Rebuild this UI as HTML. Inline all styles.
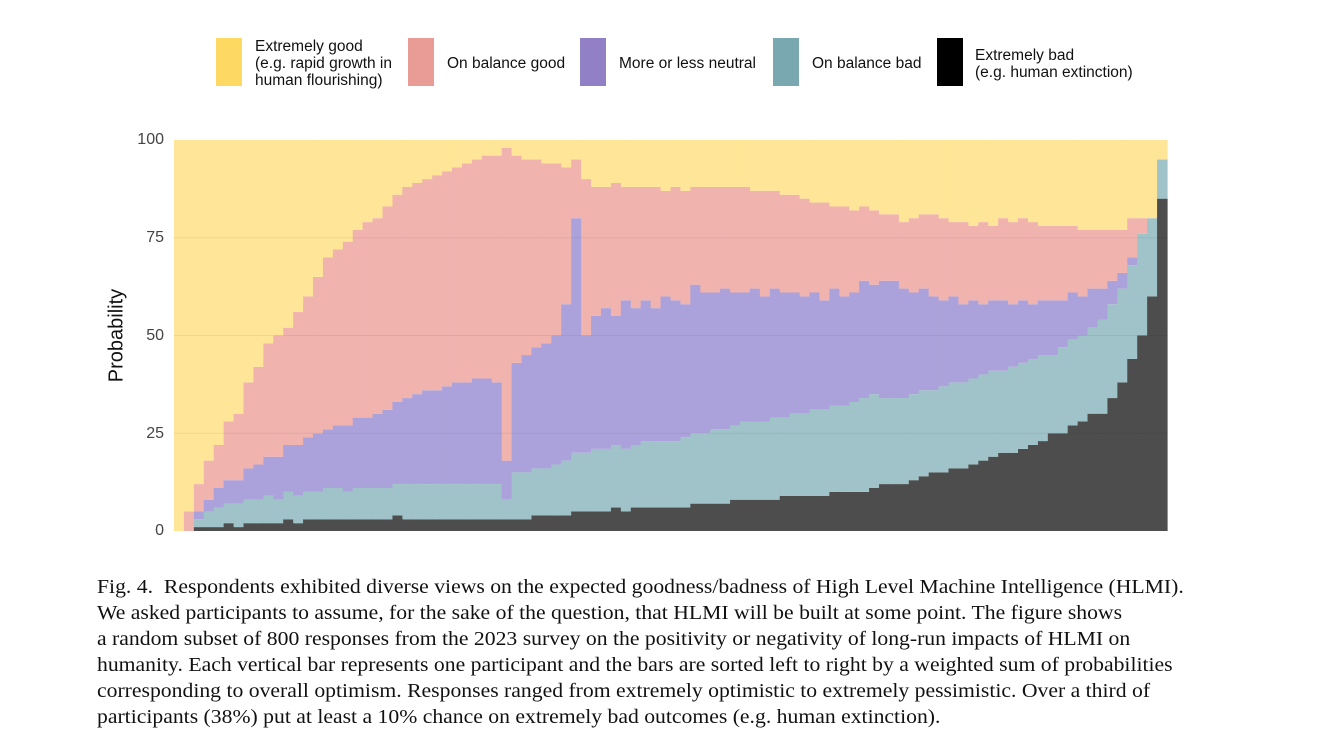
<!DOCTYPE html>
<html><head><meta charset="utf-8">
<style>
body{margin:0;background:#fff;width:1320px;height:755px;overflow:hidden;position:relative;font-family:"Liberation Sans",sans-serif;}
.sw{position:absolute;top:38px;width:26px;height:48px;}
.lt{position:absolute;font-size:15.5px;line-height:17px;color:#111;}
.tick{position:absolute;font-size:16px;color:#444;width:40px;text-align:right;left:124px;}
#cap{position:absolute;left:97px;top:574px;font-family:"Liberation Serif",serif;font-size:20px;line-height:26px;color:#111;white-space:nowrap;transform:scaleX(1.084);transform-origin:0 0;}
</style></head><body>
<div>
<div class="sw" style="left:216px;background:#FDD964"></div>
<div class="lt" style="left:255px;top:38px">Extremely good<br>(e.g. rapid growth in<br>human flourishing)</div>
<div class="sw" style="left:408px;background:#E99C96"></div>
<div class="lt" style="left:447px;top:55px">On balance good</div>
<div class="sw" style="left:580px;background:#9180C6"></div>
<div class="lt" style="left:619px;top:55px">More or less neutral</div>
<div class="sw" style="left:773px;background:#79A8B0"></div>
<div class="lt" style="left:812px;top:55px">On balance bad</div>
<div class="sw" style="left:937px;background:#000"></div>
<div class="lt" style="left:975px;top:47px">Extremely bad<br>(e.g. human extinction)</div>
</div>
<div style="position:absolute;left:67px;top:324px;width:100px;text-align:center;font-size:20px;color:#111;transform:rotate(-90deg);">Probability</div>
<div class="tick" style="top:131px">100</div>
<div class="tick" style="top:229px">75</div>
<div class="tick" style="top:327px">50</div>
<div class="tick" style="top:425px">25</div>
<div class="tick" style="top:522px">0</div>
<svg id="chart" width="1320" height="755" style="position:absolute;left:0;top:0"></svg>
<div id="cap">Fig. 4.&nbsp; Respondents exhibited diverse views on the expected goodness/badness of High Level Machine Intelligence (HLMI).<br>We asked participants to assume, for the sake of the question, that HLMI will be built at some point. The figure shows<br>a random subset of 800 responses from the 2023 survey on the positivity or negativity of long-run impacts of HLMI on<br>humanity. Each vertical bar represents one participant and the bars are sorted left to right by a weighted sum of probabilities<br>corresponding to overall optimism. Responses ranged from extremely optimistic to extremely pessimistic. Over a third of<br>participants (38%) put at least a 10% chance on extremely bad outcomes (e.g. human extinction).</div>
<script>
const extremelyBad=[0,0,1,1,1,2,1,2,2,2,2,3,2,3,3,3,3,3,3,3,3,3,4,3,3,3,3,3,3,3,3,3,3,3,3,3,4,4,4,4,5,5,5,5,6,5,6,6,6,6,6,6,7,7,7,7,8,8,8,8,8,9,9,9,9,9,10,10,10,10,11,12,12,12,13,14,15,15,16,16,17,18,19,20,20,21,22,23,25,25,27,28,30,30,34,38,44,50,60,85];
const onBalanceBad=[0,0,2,4,5,5,6,6,6,7,6,7,7,7,7,8,8,7,8,8,8,8,8,9,9,9,9,9,9,9,9,9,9,5,12,12,12,12,13,14,15,15,16,16,16,16,16,17,17,17,17,18,18,18,19,19,19,20,20,20,21,20,21,21,22,22,22,22,23,24,24,22,22,22,22,22,21,22,22,22,22,22,22,21,22,22,22,22,20,22,22,22,22,24,24,24,24,26,20,10];
const neutral=[0,0,2,3,5,6,6,8,9,10,11,12,13,14,15,15,16,17,18,18,19,20,21,22,23,24,24,25,26,26,27,27,26,10,28,30,31,32,33,40,60,30,34,36,33,38,35,36,34,37,36,34,38,36,35,36,34,33,34,32,33,32,31,30,30,28,30,28,28,30,28,30,30,28,26,26,24,22,22,20,20,18,18,18,16,16,14,14,14,12,12,10,10,8,6,4,2,0,0,0];
const onBalanceGood=[0,5,7,10,11,15,17,22,25,29,31,30,34,36,40,44,45,47,48,50,50,52,53,54,54,54,55,55,55,56,56,57,58,80,53,50,48,46,44,35,15,40,33,31,34,29,31,29,31,27,29,29,25,27,27,26,27,27,25,27,25,25,25,25,23,25,21,23,21,19,19,17,17,17,19,19,21,21,19,21,19,21,19,21,21,21,21,19,19,19,17,17,15,15,13,11,10,4,0,0];
const colors=["#4d4d4d","#9FC3C8","#ACA2DB","#F0B3AE","#FFE597"];
const names=["extremely-bad","on-balance-bad","neutral","on-balance-good","extremely-good"];
const svg=document.getElementById('chart');
const NS="http://www.w3.org/2000/svg";
const x0=174,x1=1167,yTop=140,yBot=531;
const n=extremelyBad.length,bw=(x1-x0)/n;
const xs=i=>x0+i*bw;
const ys=v=>yBot-(v/100)*(yBot-yTop);
for(let i=0;i<n;i++){
  const eg=Math.max(0,100-extremelyBad[i]-onBalanceBad[i]-neutral[i]-onBalanceGood[i]);
  const vals=[extremelyBad[i],onBalanceBad[i],neutral[i],onBalanceGood[i],eg];
  let cum=0;
  for(let k=0;k<5;k++){
    if(vals[k]<=0)continue;
    const r=document.createElementNS(NS,'rect');
    r.setAttribute('x',xs(i));
    r.setAttribute('width',bw+0.6);
    r.setAttribute('y',ys(cum+vals[k]));
    r.setAttribute('height',ys(cum)-ys(cum+vals[k]));
    r.setAttribute('fill',colors[k]);
    
    
    svg.appendChild(r);
    cum+=vals[k];
  }
}
const grid=[25,50,75];
grid.forEach(g=>{
  const l=document.createElementNS(NS,'line');
  l.setAttribute('x1',x0);l.setAttribute('x2',x1);
  l.setAttribute('y1',ys(g));l.setAttribute('y2',ys(g));
  l.setAttribute('stroke','rgba(0,0,0,0.06)');
  
  
  svg.appendChild(l);
});
</script>
</body></html>
